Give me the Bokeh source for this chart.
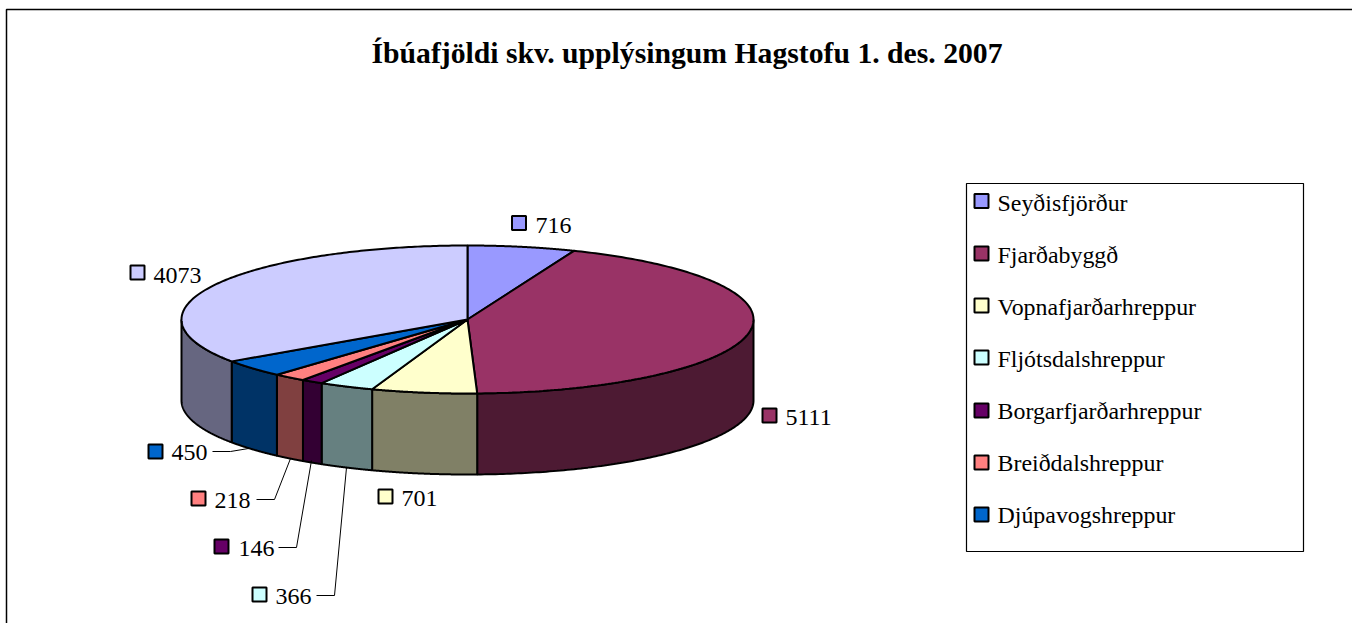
import numpy as np
from bokeh.plotting import figure
from bokeh.models import Range1d
from bokeh.core.properties import value
from bokeh.embed import file_html
from bokeh.resources import INLINE

# --- data -------------------------------------------------------------
title = "Íbúafjöldi skv. upplýsingum Hagstofu 1. des. 2007"
municipalities = ["Seyðisfjörður", "Fjarðabyggð", "Vopnafjarðarhreppur", "Fljótsdalshreppur",
                  "Borgarfjarðarhreppur", "Breiðdalshreppur", "Djúpavogshreppur", "Fljótsdalshérað"]
population = [716, 5111, 701, 366, 146, 218, 450, 4073]
top_colors = ["#9999FF", "#993366", "#FFFFCC", "#CCFFFF", "#660066", "#FF8080", "#0066CC", "#CCCCFF"]
side_colors = ["#4D4D80", "#4D1A33", "#808066", "#668080", "#330033", "#804040", "#003366", "#666680"]
legend_count = 7  # the reference legend is cut after seven entries

# --- layout (page pixels) ---------------------------------------------
W, H = 1352, 623
CX, CY, RX, RY, DEPTH = 467, 319, 286, 74, 81
label_swatch_x = [518.5, 769, 385, 259, 221, 198, 155, 137]
label_swatch_y = [222.5, 415, 496, 594, 546, 498, 451, 272]
label_text_x = [535, 785, 401, 275, 238, 214, 171, 153]
label_text_y = [225, 417, 498, 596, 548, 500, 452, 275]
leader_xs = [[212, 230, 248], [256, 274, 290], [278, 296, 311], [316, 334, 346]]
leader_ys = [[451, 451, 448], [499, 499, 458], [547, 547, 460], [595, 595, 467]]
legend_y = [200.5, 253, 305, 357, 410, 462, 514]
legend_text_y = [202, 254, 306, 358, 410, 462, 514]
FONT = value("Liberation Serif")


def px(t):
    return CX + RX * np.sin(t)


def py(t):
    return CY - RY * np.cos(t)


p = figure(width=W, height=H, x_range=Range1d(0, W), y_range=Range1d(H, 0),
           x_axis_type=None, y_axis_type=None, toolbar_location=None,
           output_backend="svg", min_border=0, outline_line_color=None,
           styles={"position": "absolute", "left": "0px", "top": "0px"})
p.grid.visible = False

# chart frame (top and left edges are the only visible ones)
p.line([6, 6, W], [H, 9, 9], line_color="black", line_width=1.5)

# slices from the values, clockwise from 12 o'clock
frac = np.array(population, dtype=float) / sum(population)
ends = np.cumsum(frac) * 2 * np.pi
starts = ends - frac * 2 * np.pi

side_x, side_y, side_c = [], [], []
for a0, a1, c in zip(starts, ends, side_colors):
    lo, hi = max(a0, np.pi / 2), min(a1, 3 * np.pi / 2)
    if hi <= lo:
        continue
    t = np.linspace(lo, hi, 120)
    side_x.append(np.r_[px(t), px(t[::-1])].tolist())
    side_y.append(np.r_[py(t), py(t[::-1]) + DEPTH].tolist())
    side_c.append(c)
p.patches(side_x, side_y, fill_color=side_c, line_color="black", line_width=2)

top_x, top_y = [], []
for a0, a1 in zip(starts, ends):
    t = np.linspace(a0, a1, 200)
    top_x.append(np.r_[CX, px(t)].tolist())
    top_y.append(np.r_[CY, py(t)].tolist())
p.patches(top_x, top_y, fill_color=top_colors, line_color="black", line_width=2)

# leader lines
p.multi_line(leader_xs, leader_ys, line_color="black", line_width=1)

# data labels
p.scatter(label_swatch_x, label_swatch_y, marker="square", size=14, fill_color=top_colors,
          line_color="black", line_width=2)
p.text(label_text_x, label_text_y, text=[str(v) for v in population], text_font=FONT,
       text_font_size="24px", text_color="black", text_align="left", text_baseline="middle")

# title
p.text([686.5], [52], text=[title], text_font=FONT, text_font_style="bold",
       text_font_size="29.7px", text_color="black", text_align="center", text_baseline="middle")

# legend
p.quad(left=[966], right=[1303], top=[183], bottom=[551], fill_color="white",
       line_color="black", line_width=1.2)
p.scatter([981] * legend_count, legend_y, marker="square", size=14,
          fill_color=top_colors[:legend_count], line_color="black", line_width=2)
p.text([997] * legend_count, legend_text_y, text=municipalities[:legend_count], text_font=FONT,
       text_font_size="23.9px", text_color="black", text_align="left", text_baseline="middle")

open("out.html", "w").write(file_html(p, INLINE))
